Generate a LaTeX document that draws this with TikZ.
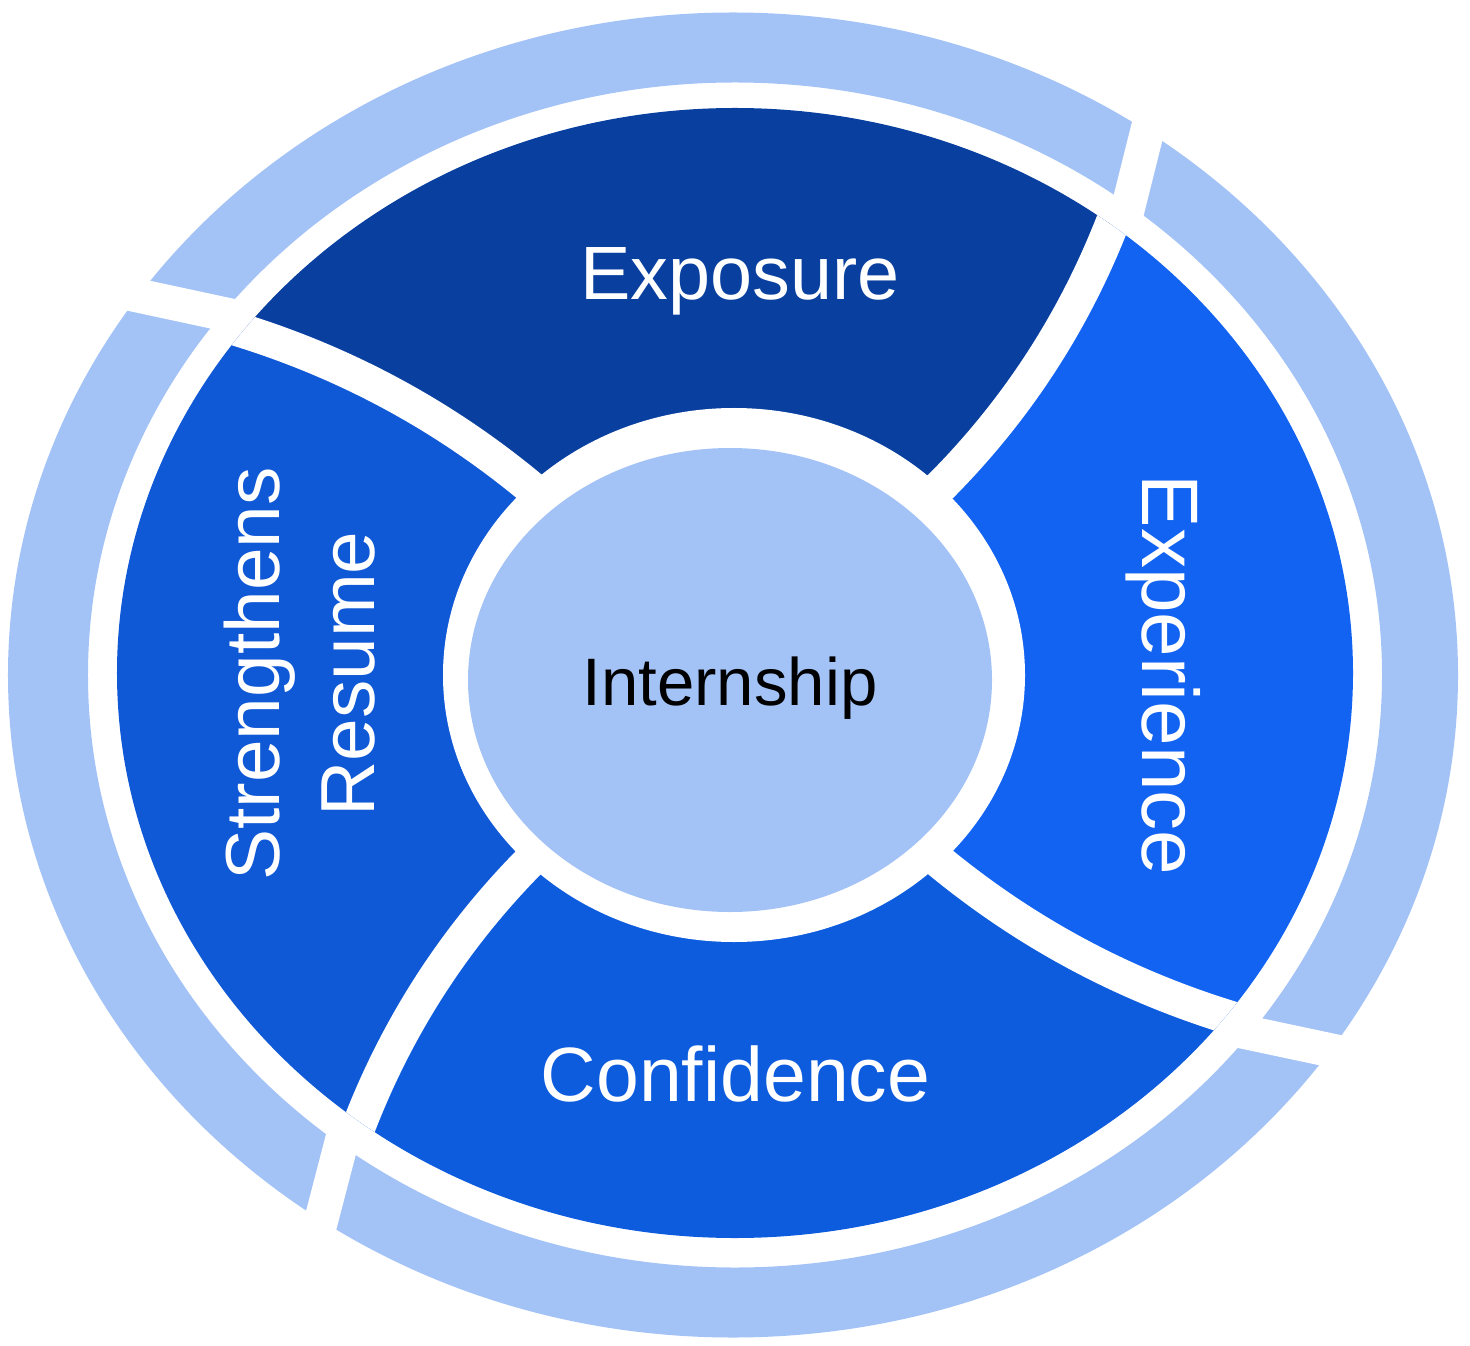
\documentclass[tikz,border=0pt]{standalone}
\usepackage{fontspec}
\setmainfont{Liberation Sans}
\usetikzlibrary{calc}

\definecolor{ringblue}{HTML}{A3C3F7}
\definecolor{expoblue}{HTML}{0940A0}
\definecolor{expeblue}{HTML}{1263F2}
\definecolor{confblue}{HTML}{0D5CDE}
\definecolor{resublue}{HTML}{0F58D6}

\begin{document}
\begin{tikzpicture}[
        gap/.style={white, line width=0.34cm},
        seglabel/.style={text=white, font=\fontsize{21.5}{27}\selectfont}]
    \useasboundingbox (-7.35,-6.70) rectangle (7.35,6.75);

    % outer ring with its four cuts
    \fill[ringblue, even odd rule] (-0.02,0) ellipse (7.25 and 6.625) (0,0) ellipse (6.47 and 5.925);
    \coordinate (g1) at (-5.16,3.62);  \coordinate (h1) at (-5.95,3.79);
    \coordinate (g2) at (3.95,4.75);   \coordinate (h2) at (4.13,5.47);
    \coordinate (g3) at (5.19,-3.59);  \coordinate (h3) at (5.99,-3.76);
    \coordinate (g4) at (-3.95,-4.73); \coordinate (h4) at (-4.14,-5.46);
    \draw[gap, shorten <=-0.4cm, shorten >=-0.5cm] (g1) -- (h1);
    \draw[gap, shorten <=-0.4cm, shorten >=-0.5cm] (g2) -- (h2);
    \draw[gap, shorten <=-0.4cm, shorten >=-0.5cm] (g3) -- (h3);
    \draw[gap, shorten <=-0.4cm, shorten >=-0.5cm] (g4) -- (h4);

    % curved borders between the segments
    \coordinate (a1) at (-2.05,1.88);  \coordinate (p1) at (-2.905,2.587);  \coordinate (q1) at (-3.861,3.107);  \coordinate (b1) at (-4.92,3.44);  \coordinate (e1) at (-5.87,3.74);
    \coordinate (a2) at (2.07,1.90);   \coordinate (p2) at (2.815,2.653);   \coordinate (q2) at (3.382,3.523);   \coordinate (b2) at (3.77,4.51);   \coordinate (e2) at (4.14,5.44);
    \coordinate (a3) at (2.05,-1.87);  \coordinate (p3) at (2.909,-2.575);  \coordinate (q3) at (3.869,-3.091);  \coordinate (b3) at (4.93,-3.42);  \coordinate (e3) at (5.89,-3.72);
    \coordinate (a4) at (-2.06,-1.87); \coordinate (p4) at (-2.802,-2.624); \coordinate (q4) at (-3.365,-3.494); \coordinate (b4) at (-3.75,-4.48); \coordinate (e4) at (-4.11,-5.41);

    \begin{scope}
        \clip (0,0.02) ellipse (6.18 and 5.65);
        \fill[expoblue] (0,0) -- (a1) .. controls (p1) and (q1) .. (b1) -- (e1) -- (-7,7) -- (7,7) -- (e2) -- (b2) .. controls (q2) and (p2) .. (a2) -- cycle;
        \fill[expeblue] (0,0) -- (a2) .. controls (p2) and (q2) .. (b2) -- (e2) -- (7,7) -- (7,-7) -- (e3) -- (b3) .. controls (q3) and (p3) .. (a3) -- cycle;
        \fill[confblue] (0,0) -- (a3) .. controls (p3) and (q3) .. (b3) -- (e3) -- (7,-7) -- (-7,-7) -- (e4) -- (b4) .. controls (q4) and (p4) .. (a4) -- cycle;
        \fill[resublue] (0,0) -- (a4) .. controls (p4) and (q4) .. (b4) -- (e4) -- (-7,-7) -- (-7,7) -- (e1) -- (b1) .. controls (q1) and (p1) .. (a1) -- cycle;
        \draw[gap] (0,0) -- (a1) .. controls (p1) and (q1) .. (b1) -- (e1);
        \draw[gap] (0,0) -- (a2) .. controls (p2) and (q2) .. (b2) -- (e2);
        \draw[gap] (0,0) -- (a3) .. controls (p3) and (q3) .. (b3) -- (e3);
        \draw[gap] (0,0) -- (a4) .. controls (p4) and (q4) .. (b4) -- (e4);
    \end{scope}

    % hub
    \fill[white] (-0.01,0) ellipse (2.91 and 2.67);
    \fill[ringblue] (-0.05,-0.05) ellipse (2.62 and 2.32);

    \node[seglabel, anchor=base] (exposure) at (0.05,3.75) {Exposure};
    \node[seglabel, anchor=base, rotate=-90, font=\fontsize{22.8}{28}\selectfont] (experience) at (4.07,0) {Experience};
    \node[seglabel, anchor=base, font=\fontsize{21.9}{27}\selectfont] (confidence) at (0.005,-4.26) {Confidence};
    \node[seglabel, align=center, rotate=90, font=\fontsize{21.8}{27}\selectfont] (resume) at (-4.35,0.01) {Strengthens\\Resume};
    \node[font=\fontsize{19.1}{23}\selectfont, anchor=base] (internship) at (-0.05,-0.30) {Internship};
\end{tikzpicture}
\end{document}
